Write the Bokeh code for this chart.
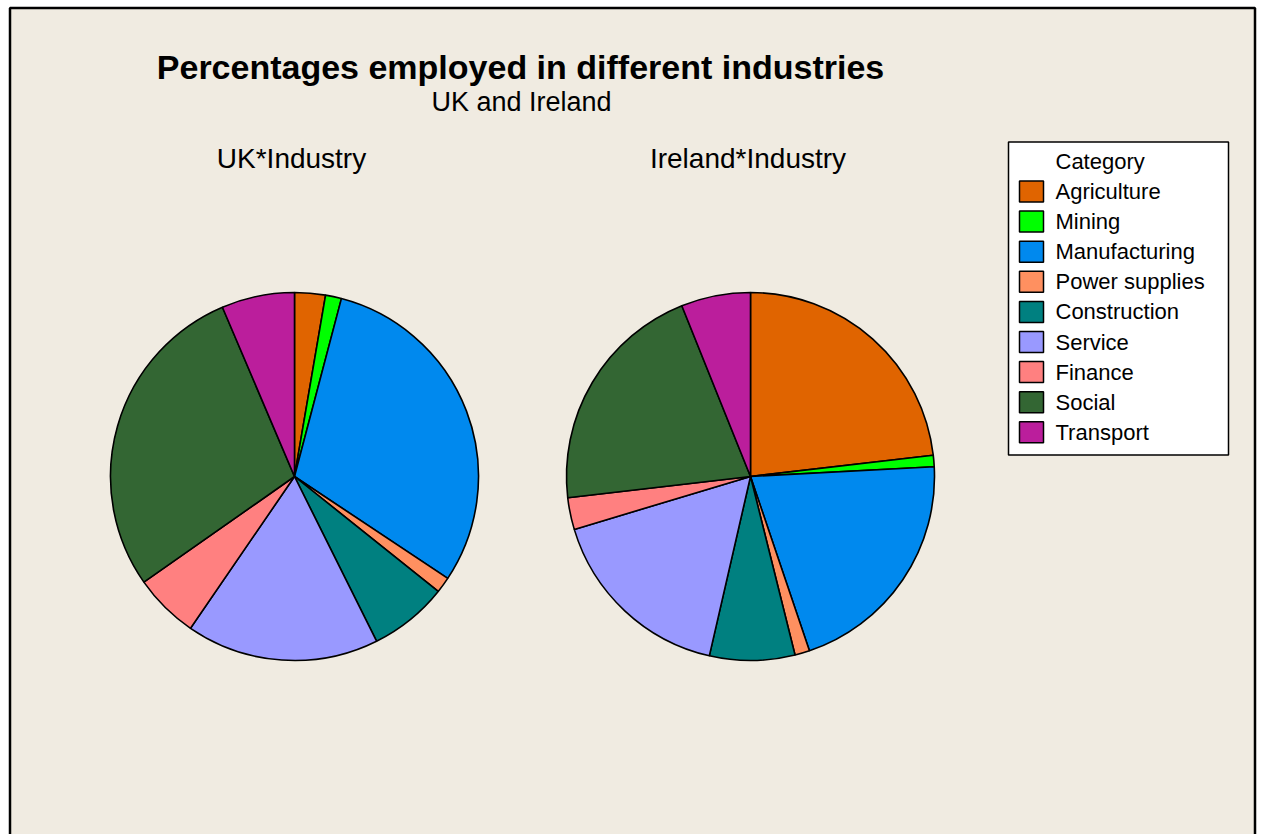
import numpy as np
from bokeh.plotting import figure
from bokeh.models import ColumnDataSource, Range1d
from bokeh.core.properties import value
from bokeh.embed import file_html
from bokeh.resources import INLINE

# ---- data ----
categories = ["Agriculture", "Mining", "Manufacturing", "Power supplies",
              "Construction", "Service", "Finance", "Social", "Transport"]
uk_values = [2.7, 1.4, 30.2, 1.4, 6.9, 16.9, 5.7, 28.3, 6.4]
ireland_values = [23.2, 1.0, 20.7, 1.3, 7.5, 16.8, 2.8, 20.8, 6.1]
colors = ["#E06400", "#00FF00", "#0089EE", "#FF9060", "#008080",
          "#9999FF", "#FF8080", "#336633", "#BB1E9C"]
title_text = "Percentages employed in different industries"
subtitle_text = "UK and Ireland"
panel_titles = ["UK*Industry", "Ireland*Industry"]
legend_title = "Category"

W, H = 1263, 834
FONT = "Liberation Sans"
BG = "#F0EBE1"


def Y(py):
    return H - py


p = figure(width=W, height=H, x_range=Range1d(0, W), y_range=Range1d(0, H),
           output_backend="svg", toolbar_location=None,
           x_axis_type=None, y_axis_type=None, min_border=0)
p.grid.visible = False
p.outline_line_color = None
p.background_fill_color = "white"
p.border_fill_color = "white"

# outer frame
p.quad(left=[9.5], right=[1254.5], top=[Y(7.5)], bottom=[-20],
       fill_color=BG, line_color="black", line_width=2.5)

# titles
p.text(x=[520], y=[Y(66)], text=[title_text], text_font=value(FONT),
       text_font_style="bold", text_font_size="34px", text_align="center",
       text_baseline="middle", text_color="black")
p.text(x=[521], y=[Y(101.5)], text=[subtitle_text], text_font=value(FONT),
       text_font_size="27px", text_align="center",
       text_baseline="middle", text_color="black")

# pies
centers = [(294, 476), (750, 476)]
title_x = [291, 747.5]
R = 184
for (cx, cy), tx, vals, ptitle in zip(centers, title_x,
                                      [uk_values, ireland_values], panel_titles):
    v = np.array(vals, dtype=float)
    cum = np.concatenate([[0], np.cumsum(v)]) / v.sum() * 2 * np.pi
    src = ColumnDataSource(dict(
        start=np.pi / 2 - cum[:-1],
        end=np.pi / 2 - cum[1:],
        color=colors,
        category=categories,
        val=vals,
    ))
    p.wedge(x=cx, y=Y(cy), radius=R, radius_units="screen",
            start_angle="start", end_angle="end", direction="clock",
            fill_color="color", line_color="black", line_width=1.6, source=src)
    p.text(x=[tx], y=[Y(158)], text=[ptitle], text_font=value(FONT),
           text_font_size="28px", text_align="center",
           text_baseline="middle", text_color="black")

# legend
p.quad(left=[1008], right=[1228], top=[Y(141.5)], bottom=[Y(454.5)],
       fill_color="white", line_color="black", line_width=1.5)
row_y = [Y(191 + 30.1 * i) for i in range(len(categories))]
lsrc = ColumnDataSource(dict(x=[1031] * len(categories), y=row_y,
                             color=colors, label=categories,
                             tx=[1055] * len(categories)))
p.rect(x="x", y="y", width=24, height=21, fill_color="color",
       line_color="black", line_width=1.5, source=lsrc)
p.text(x="tx", y="y", text="label", text_font=value(FONT),
       text_font_size="22px", text_align="left", text_baseline="middle",
       text_color="black", source=lsrc)
p.text(x=[1055], y=[Y(161)], text=[legend_title], text_font=value(FONT),
       text_font_size="22px", text_align="left", text_baseline="middle",
       text_color="black")

open("out.html", "w").write(file_html(p, INLINE))
